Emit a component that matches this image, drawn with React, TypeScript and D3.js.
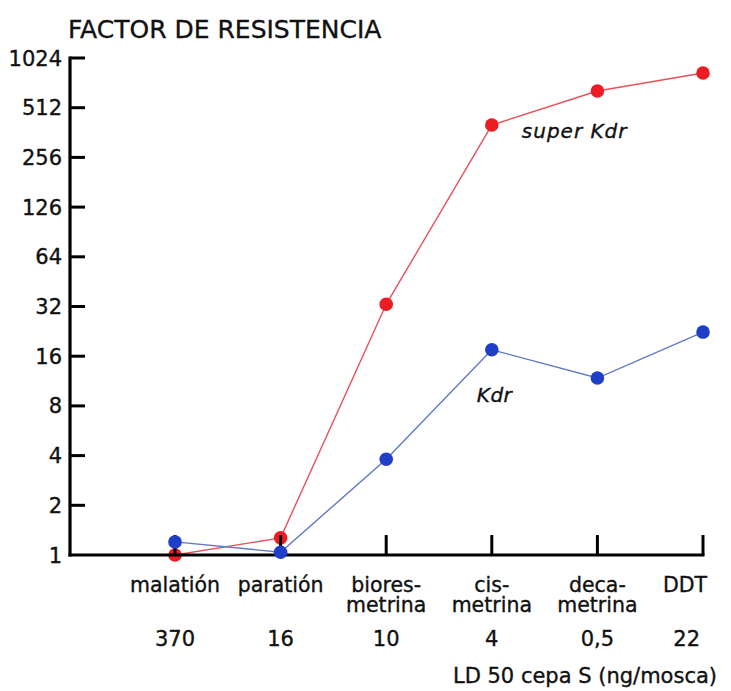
import React from "react";
import * as d3 from "d3";

const categories = ["malatión", "paratión", "biores-metrina", "cis-metrina", "deca-metrina", "DDT"];
const ld50 = ["370", "16", "10", "4", "0,5", "22"];
const superKdr = [1.0, 1.27, 33, 402, 646, 831];
const kdr = [1.2, 1.04, 3.8, 17.5, 11.8, 22.4];
const yTicks = [1, 2, 4, 8, 16, 32, 64, 128, 256, 512, 1024];
const yTickLabels = ["1", "2", "4", "8", "16", "32", "64", "126", "256", "512", "1024"];

const W = 731;
const H = 691;
const FONT = "'DejaVu Sans', sans-serif";

export default function App() {
  const x = d3.scalePoint<string>().domain(categories).range([175, 703]);
  const y = d3.scaleLog().base(2).domain([1, 1024]).range([555, 58]);
  const xAxisLeft = 70;
  const lineGen = (vals: number[]) =>
    d3
      .line<number>()
      .x((_, i) => x(categories[i]) as number)
      .y((v) => y(v))(vals) as string;

  const red = "#ec1c24";
  const redLine = "#e8505a";
  const blue = "#1f3fc8";
  const blueLine = "#6078c8";
  const ink = { fill: "#111", stroke: "#111", strokeWidth: 0.35 };

  return (
    <svg width={W} height={H} style={{ position: "absolute", left: 0, top: 0, background: "#fff" }} fontFamily={FONT}>
      <rect width={W} height={H} fill="#fff" />
      <text x={xAxisLeft - 2} y={38} fontSize={25} {...ink}>FACTOR DE RESISTENCIA</text>

      {/* super Kdr series (under axis) */}
      <path d={lineGen(superKdr)} fill="none" stroke={redLine} strokeWidth={1.4} />
      {superKdr.map((v, i) => (
        <circle key={"r" + i} cx={x(categories[i])} cy={y(v)} r={6.8} fill={red} />
      ))}

      {/* y axis */}
      <line x1={xAxisLeft} x2={xAxisLeft} y1={y(1024) - 1.5} y2={y(1) + 1.5} stroke="#000" strokeWidth={3.2} />
      {yTicks.map((t, i) => (
        <g key={"yt" + i}>
          {i > 0 && (
            <line x1={xAxisLeft} x2={xAxisLeft + 15} y1={y(t)} y2={y(t)} stroke="#000" strokeWidth={3} />
          )}
          <text x={xAxisLeft - 8} y={y(t)} dy="0.36em" textAnchor="end" fontSize={21} {...ink}>
            {yTickLabels[i]}
          </text>
        </g>
      ))}

      {/* x axis */}
      <line x1={xAxisLeft - 1.5} x2={x(categories[categories.length - 1])! + 1.5} y1={y(1)} y2={y(1)} stroke="#000" strokeWidth={3.2} />
      {categories.map((c, i) => (
        <line key={"xt" + i} x1={x(c)} x2={x(c)} y1={y(1)} y2={y(1) - 20} stroke="#000" strokeWidth={3} />
      ))}

      {/* Kdr series */}
      <path d={lineGen(kdr)} fill="none" stroke={blueLine} strokeWidth={1.4} />
      {kdr.map((v, i) => (
        <circle key={"b" + i} cx={x(categories[i])} cy={y(v)} r={6.8} fill={blue} />
      ))}

      {/* series labels */}
      <text x={x("cis-metrina")! + 30} y={y(superKdr[3]) + 13} fontSize={20} letterSpacing={1} fontStyle="italic" {...ink}>super Kdr</text>
      <text x={x("cis-metrina")! - 15} y={y(kdr[3]) + 52} fontSize={20} letterSpacing={0.5} fontStyle="italic" {...ink}>Kdr</text>

      {/* category labels */}
      {categories.map((c, i) => {
        const parts = c.includes("-") ? [c.split("-")[0] + "-", c.split("-")[1]] : [c];
        const last = i === categories.length - 1;
        const cx = (x(c) as number) + (last ? 4 : 0);
        return (
          <text key={"cl" + i} textAnchor={last ? "end" : "middle"} fontSize={20.5} {...ink}>
            {parts.map((p, j) => (
              <tspan key={j} x={cx} y={592 + j * 20}>{p}</tspan>
            ))}
          </text>
        );
      })}
      {ld50.map((v, i) => {
        const last = i === ld50.length - 1;
        return (
          <text key={"ld" + i} x={(x(categories[i]) as number) + (last ? -3 : 0)} y={646}
            textAnchor={last ? "end" : "middle"} fontSize={21} {...ink}>{v}</text>
        );
      })}
      <text x={x("DDT")! + 14} y={683} textAnchor="end" fontSize={21} {...ink}>LD 50 cepa S (ng/mosca)</text>
    </svg>
  );
}
